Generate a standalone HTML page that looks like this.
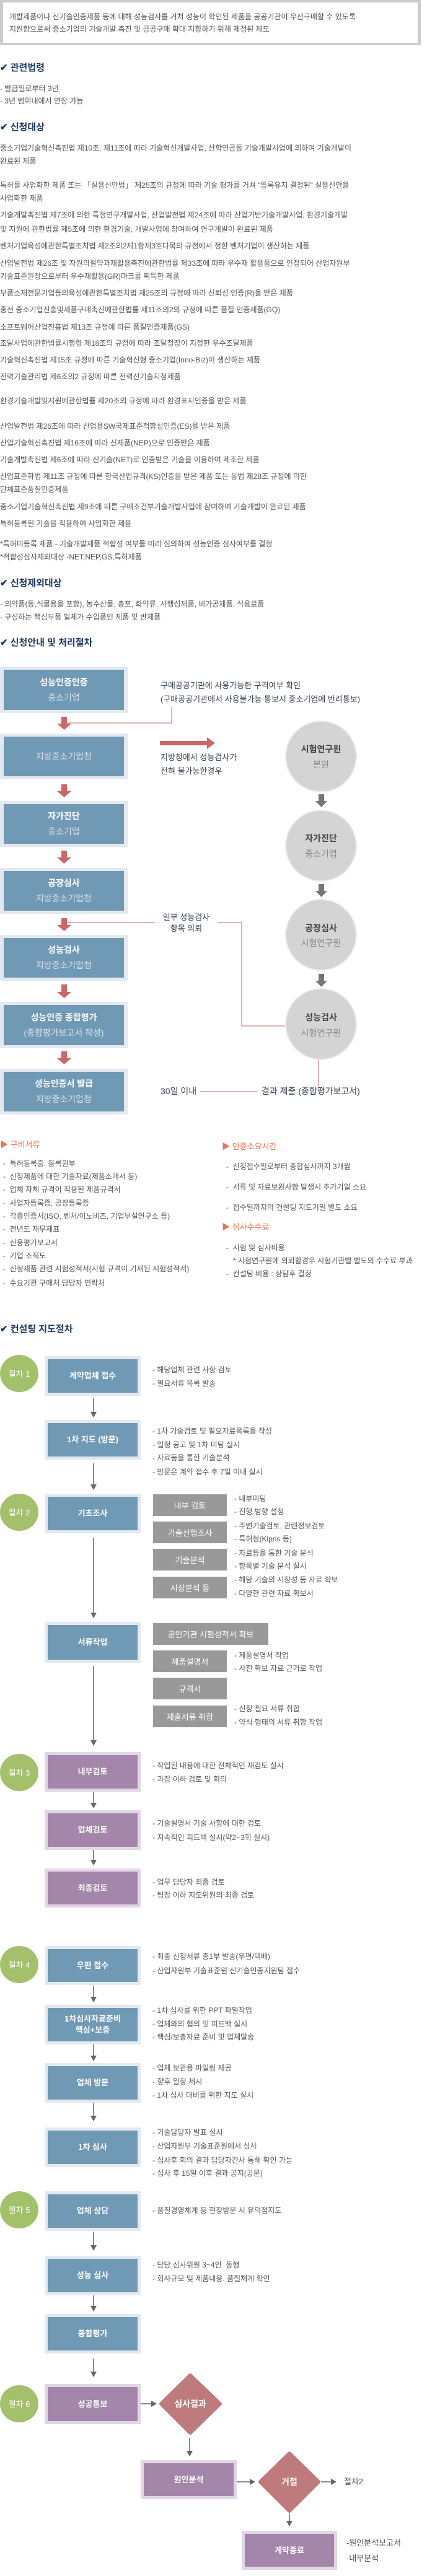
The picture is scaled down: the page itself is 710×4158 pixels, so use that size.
<!DOCTYPE html>
<html lang="ko"><head><meta charset="utf-8">
<style>
*{margin:0;padding:0;box-sizing:border-box}
body{width:710px;height:4158px;position:relative;background:#fff;font-family:"Liberation Sans","Noto Sans CJK KR",sans-serif;overflow:hidden}
.t{position:absolute;font-size:12px;line-height:16px;color:#555;white-space:nowrap}
.h{position:absolute;font-size:15px;line-height:20px;font-weight:bold;color:#1e3a66;white-space:nowrap;left:0}
.o{position:absolute;font-size:13px;line-height:18px;color:#f07050;white-space:nowrap}
.fb{position:absolute;left:0;width:206px;border:5px solid #e3e9ef;border-left-width:6px;border-right-width:6px;background:#7099b5;display:flex;flex-direction:column;align-items:center;justify-content:center;text-align:center}
.fb b{display:block;color:#fff;font-size:14px;line-height:25px}
.fb span{display:block;color:#d9e3ec;font-size:14px;line-height:25px}
.cb{position:absolute;border:5px solid #e3e9ef;background:#7099b5;display:flex;align-items:center;justify-content:center;text-align:center;color:#fff;font-size:13px;font-weight:bold;line-height:18px}
.pb{border-color:#e2d6e6;background:#a386aa}
.gb{position:absolute;left:247px;width:119px;height:35px;background:#999;color:#fff;font-size:13px;display:flex;align-items:center;justify-content:center;white-space:nowrap}
.d{color:#555}
</style></head><body>

<div style="position:absolute;left:0;top:0;width:679px;height:73px;border:5px solid #ccc;border-top-width:4px;border-bottom-width:4px;background:#fff"></div>
<div class="t" style="left:15px;top:19px">개발제품이나 신기술인증제품 등에 대해 성능검사를 거쳐 성능이 확인된 제품을 공공기관이 우선구매할 수 있도록</div>
<div class="t" style="left:15px;top:39px">지원함으로써 중소기업의 기술개발 촉진 및 공공구매 확대 지향하기 위해 제정된 제도</div>

<div class="h" style="top:100px">✔ 관련법령</div>
<div class="t" style="left:0;top:135px">- 발급일로부터 3년</div>
<div class="t" style="left:0;top:155px">- 3년 범위내에서 연장 가능</div>

<div class="h" style="top:196px">✔ 신청대상</div>
<div class="t" style="left:0;top:231px">중소기업기술혁신촉진법 제10조, 제11조에 따라 기술혁신개발사업, 산학연공동 기술개발사업에 의하여 기술개발이</div>
<div class="t" style="left:0;top:252px">완료된 제품</div>
<div class="t" style="left:0;top:291px">특허를 사업화한 제품 또는 「실용신안법」 제25조의 규정에 따라 기술 평가를 거쳐 “등록유지 결정된” 실용신안을</div>
<div class="t" style="left:0;top:312px">사업화한 제품</div>
<div class="t" style="left:0;top:339px">기술개발촉진법 제7조에 의한 특정연구개발사업, 산업발전법 제24조에 따라 산업기반기술개발사업, 환경기술개발</div>
<div class="t" style="left:0;top:362px">및 지원에 관한법률 제5조에 의한 환경기술, 개발사업에 참여하여 연구개발이 완료된 제품</div>
<div class="t" style="left:0;top:389px">벤처기업육성에관한특별조치법 제2조의2제1항제3호다목의 규정에서 정한 벤처기업이 생산하는 제품</div>
<div class="t" style="left:0;top:417px">산업발전법 제26조 및 자원의절약과재활용촉진에관한법률 제33조에 따라 우수재 활용품으로 인정되어 산업자원부</div>
<div class="t" style="left:0;top:438px">기술표준원장으로부터 우수재활용(GR)마크를 획득한 제품</div>
<div class="t" style="left:0;top:465px">부품소재전문기업등의육성에관한특별조치법 제25조의 규정에 따라 신뢰성 인증(R)을 받은 제품</div>
<div class="t" style="left:0;top:492px">종전 중소기업진흥및제품구매촉진에관한법률 제11조의2의 규정에 따른 품질 인증제품(GQ)</div>
<div class="t" style="left:0;top:520px">소프트웨어산업진흥법 제13조 규정에 따른 품질인증제품(GS)</div>
<div class="t" style="left:0;top:546px">조달사업에관한법률시행령 제18조의 규정에 따라 조달청장이 지정한 우수조달제품</div>
<div class="t" style="left:0;top:573px">기술혁신촉진법 제15조 규정에 따른 기술혁신형 중소기업(Inno-Biz)이 생산하는 제품</div>
<div class="t" style="left:0;top:600px">전력기술관리법 제6조의2 규정에 따른 전력신기술지정제품</div>
<div class="t" style="left:0;top:639px">환경기술개발및지원에관한법률 제20조의 규정에 따라 환경표지인증을 받은 제품</div>
<div class="t" style="left:0;top:680px">산업발전법 제26조에 따라 산업용SW국제표준적합성인증(ES)을 받은 제품</div>
<div class="t" style="left:0;top:707px">산업기술혁신촉진법 제16조에 따라 신제품(NEP)으로 인증받은 제품</div>
<div class="t" style="left:0;top:734px">기술개발촉진법 제6조에 따라 신기술(NET)로 인증받은 기술을 이용하여 제조한 제품</div>
<div class="t" style="left:0;top:761px">산업표준화법 제11조 규정에 따른 한국산업규격(KS)인증을 받은 제품 또는 동법 제28조 규정에 의한</div>
<div class="t" style="left:0;top:782px">단체표준품질인증제품</div>
<div class="t" style="left:0;top:810px">중소기업기술혁신촉진법 제9조에 따른 구매조건부기술개발사업에 참여하여 기술개발이 완료된 제품</div>
<div class="t" style="left:0;top:837px">특허등록된 기술을 적용하여 사업화한 제품</div>
<div class="t" style="left:0;top:870px">*특허미등록 제품 - 기술개발제품 적합성 여부를 미리 심의하여 성능인증 심사여부를 결정</div>
<div class="t" style="left:0;top:891px">*적합성심사제외대상 -NET,NEP,GS,특허제품</div>

<div class="h" style="top:932px">✔ 신청제외대상</div>
<div class="t" style="left:0;top:967px">-  의약품(동,식물용을 포함), 농수산물, 총포, 화약류, 사행성제품, 비가공제품, 식음료품</div>
<div class="t" style="left:0;top:988px">-  구성하는 핵심부품 일체가 수입품인 제품 및 반제품</div>

<div class="h" style="top:1028px">✔ 신청안내 및 처리절차</div>

<svg style="position:absolute;left:0;top:0" width="710" height="4158" xmlns="http://www.w3.org/2000/svg">
<g fill="#cd6666">
<rect x="99" y="1157" width="9" height="11"/><polygon points="92,1168 115,1168 103.5,1178"/>
<rect x="99" y="1266" width="9" height="11"/><polygon points="92,1277 115,1277 103.5,1287"/>
<rect x="99" y="1373" width="9" height="11"/><polygon points="92,1384 115,1384 103.5,1394"/>
<rect x="99" y="1482" width="9" height="11"/><polygon points="92,1493 115,1493 103.5,1503"/>
<rect x="99" y="1589" width="9" height="12"/><polygon points="92,1601 115,1601 103.5,1611"/>
<rect x="99" y="1697" width="9" height="11"/><polygon points="92,1708 115,1708 103.5,1718"/>
<rect x="258" y="1196" width="77" height="7"/><polygon points="334,1190 347,1199.5 334,1209"/>
</g>
<g stroke="#cd6666" stroke-width="1" fill="none">
<polyline points="277,1141 277,1167 108,1167"/>
<polyline points="108,1489 250,1489"/>
<polyline points="351,1489 390,1489 390,1656 461,1656"/>
<line x1="514" y1="1710" x2="514" y2="1753"/>
<line x1="323" y1="1762" x2="415" y2="1762"/>
</g>
<g fill="#777">
<rect x="514" y="1282" width="9" height="11"/><polygon points="509,1293 528,1293 518.5,1303"/>
<rect x="514" y="1427" width="9" height="11"/><polygon points="509,1438 528,1438 518.5,1448"/>
<rect x="514" y="1572" width="9" height="11"/><polygon points="509,1583 528,1583 518.5,1593"/>
</g>
<g fill="#d4d4d4" stroke="#ececec" stroke-width="2">
<ellipse cx="518" cy="1221" rx="57" ry="57"/>
<ellipse cx="518" cy="1365" rx="57" ry="57"/>
<ellipse cx="518" cy="1509" rx="57" ry="57"/>
<ellipse cx="518" cy="1653" rx="57" ry="57"/>
</g>
<g font-family="Liberation Sans,Noto Sans CJK KR,sans-serif" font-size="14" text-anchor="middle">
<text x="518" y="1214" font-weight="bold" fill="#444">시험연구원</text><text x="518" y="1239" fill="#888">본원</text>
<text x="518" y="1358" font-weight="bold" fill="#444">자가진단</text><text x="518" y="1383" fill="#888">중소기업</text>
<text x="518" y="1503" font-weight="bold" fill="#444">공장심사</text><text x="518" y="1527" fill="#888">시험연구원</text>
<text x="518" y="1647" font-weight="bold" fill="#444">성능검사</text><text x="518" y="1672" fill="#888">시험연구원</text>
</g>

<!-- consulting arrows -->
<g stroke="#666" stroke-width="1.5">
<line x1="151" y1="2257" x2="151" y2="2280"/><line x1="151" y1="2362" x2="151" y2="2397"/>
<line x1="151" y1="2482" x2="151" y2="2604"/><line x1="151" y1="2689" x2="151" y2="2810"/>
<line x1="151" y1="2893" x2="151" y2="2911"/><line x1="151" y1="2986" x2="151" y2="3003"/>
<line x1="151" y1="3205" x2="151" y2="3224"/><line x1="151" y1="3300" x2="151" y2="3319"/>
<line x1="151" y1="3394" x2="151" y2="3416"/><line x1="151" y1="3602" x2="151" y2="3625"/>
<line x1="151" y1="3705" x2="151" y2="3723"/><line x1="151" y1="3807" x2="151" y2="3829"/>
<line x1="306" y1="3935" x2="306" y2="3957"/><line x1="467" y1="4057" x2="467" y2="4070"/>
<line x1="227" y1="3880" x2="245" y2="3880"/><line x1="382" y1="4006" x2="404" y2="4006"/>
<line x1="518" y1="4006" x2="535" y2="4006"/>
</g>
<g fill="#666">
<polygon points="146,2279 156,2279 151,2288"/><polygon points="146,2396 156,2396 151,2405"/>
<polygon points="146,2603 156,2603 151,2612"/><polygon points="146,2809 156,2809 151,2818"/>
<polygon points="146,2910 156,2910 151,2919"/><polygon points="146,3002 156,3002 151,3011"/>
<polygon points="146,3223 156,3223 151,3232"/><polygon points="146,3318 156,3318 151,3327"/>
<polygon points="146,3415 156,3415 151,3424"/><polygon points="146,3624 156,3624 151,3633"/>
<polygon points="146,3722 156,3722 151,3731"/><polygon points="146,3828 156,3828 151,3837"/>
<polygon points="301,3956 311,3956 306,3965"/><polygon points="462,4069 472,4069 467,4078"/>
<polygon points="244,3875 244,3885 253,3880"/><polygon points="403,4001 403,4011 412,4006"/>
<polygon points="534,4001 534,4011 543,4006"/>
</g>
<g fill="#a3c06b">
<ellipse cx="31" cy="2217" rx="31" ry="30"/><ellipse cx="31" cy="2441" rx="31" ry="30"/>
<ellipse cx="31" cy="2861" rx="31" ry="30"/><ellipse cx="31" cy="3171" rx="31" ry="30"/>
<ellipse cx="31" cy="3567" rx="31" ry="30"/><ellipse cx="31" cy="3880" rx="31" ry="30"/>
</g>
<g font-family="Liberation Sans,Noto Sans CJK KR,sans-serif" font-size="13" fill="#fff" text-anchor="middle">
<text x="31" y="2222">절차 1</text><text x="31" y="2446">절차 2</text><text x="31" y="2866">절차 3</text>
<text x="31" y="3176">절차 4</text><text x="31" y="3572">절차 5</text><text x="31" y="3885">절차 6</text>
</g>
<g fill="#bf7b7b" stroke="#bf7b7b" stroke-width="6" stroke-linejoin="round">
<polygon points="307,3834 355,3880 307,3927 260,3880"/>
<polygon points="467,3960 514,4006 467,4053 420,4006"/>
</g>
<g font-family="Liberation Sans,Noto Sans CJK KR,sans-serif" font-size="14" fill="#fff" text-anchor="middle" font-weight="bold">
<text x="307" y="3885">심사결과</text><text x="467" y="4011">거절</text>
</g>
</svg>

<!-- flow 1 -->
<div class="fb" style="top:1076px;height:75px"><b>성능인증인증</b><span>중소기업</span></div>
<div class="fb" style="top:1184px;height:74px"><span>지방중소기업청</span></div>
<div class="fb" style="top:1293px;height:74px"><b>자가진단</b><span>중소기업</span></div>
<div class="fb" style="top:1401px;height:74px"><b>공장심사</b><span>지방중소기업청</span></div>
<div class="fb" style="top:1509px;height:74px"><b>성능검사</b><span>지방중소기업청</span></div>
<div class="fb" style="top:1617px;height:75px"><b>성능인증 종합평가</b><span>(종합평가보고서 작성)</span></div>
<div class="fb" style="top:1725px;height:74px"><b>성능인증서 발급</b><span>지방중소기업청</span></div>

<div class="t" style="left:259px;top:1099px;font-size:13px;color:#3a4656">구매공공기관에 사용가능한 구격여부 확인</div>
<div class="t" style="left:259px;top:1121px;font-size:13px;color:#3a4656">(구매공공기관에서 사용불가능 통보시 중소기업에 반려통보)</div>
<div class="t" style="left:259px;top:1215px;font-size:13px;color:#3a4656">지방청에서 성능검사가</div>
<div class="t" style="left:259px;top:1237px;font-size:13px;color:#3a4656">전혀 불가능한경우</div>
<div class="t" style="left:250px;width:101px;text-align:center;top:1473px;font-size:13px;color:#3a4656">일부 성능검사</div>
<div class="t" style="left:250px;width:101px;text-align:center;top:1491px;font-size:13px;color:#3a4656">항목 의뢰</div>
<div class="t" style="left:259px;top:1753px;font-size:14px;color:#3a4656">30일 이내</div>
<div class="t" style="left:422px;top:1753px;font-size:14px;color:#3a4656">결과 제출 (종합평가보고서)</div>

<div class="o" style="left:0;top:1839px">▶ 구비서류</div>
<div class="t" style="left:5px;top:1870px">-&nbsp; 특허등록증, 등록원부</div>
<div class="t" style="left:5px;top:1891px">-&nbsp; 신청제품에 대한 기술자료(제품소개서 등)</div>
<div class="t" style="left:5px;top:1912px">-&nbsp; 업체 자체 규격이 적용된 제품규격서</div>
<div class="t" style="left:5px;top:1934px">-&nbsp; 사업자등록증, 공장등록증</div>
<div class="t" style="left:5px;top:1955px">-&nbsp; 각종인증서(ISO, 벤처/이노비즈, 기업부설연구소 등)</div>
<div class="t" style="left:5px;top:1976px">-&nbsp; 전년도 재무제표</div>
<div class="t" style="left:5px;top:1998px">-&nbsp; 신용평가보고서</div>
<div class="t" style="left:5px;top:2019px">-&nbsp; 기업 조직도</div>
<div class="t" style="left:5px;top:2040px">-&nbsp; 신청제품 관련 시험성적서(시험 규격이 기재된 시험성적서)</div>
<div class="t" style="left:5px;top:2063px">-&nbsp; 수요기관 구매처 담당자 연락처</div>

<div class="o" style="left:358px;top:1842px">▶ 인증소요시간</div>
<div class="t" style="left:365px;top:1875px">-&nbsp; 신청접수일로부터 종합심사까지 3개월</div>
<div class="t" style="left:365px;top:1908px">-&nbsp; 서류 및 자료보완사항 발생시 추가기일 소요</div>
<div class="t" style="left:365px;top:1941px">-&nbsp; 접수일까지의 컨설팅 지도기일 별도 소요</div>
<div class="o" style="left:358px;top:1972px">▶ 심사수수료</div>
<div class="t" style="left:365px;top:2006px">-&nbsp; 시험 및 심사비용</div>
<div class="t" style="left:376px;top:2027px">* 시험연구원에 의뢰할경우 시험기관별 별도의 수수료 부과</div>
<div class="t" style="left:365px;top:2048px">-&nbsp; 컨설팅 비용 : 상담후 결정</div>

<div class="h" style="top:2136px">✔ 컨설팅 지도절차</div>

<!-- consulting boxes -->
<div class="cb" style="left:72px;width:155px;top:2189px;height:64px">계약업체 접수</div>
<div class="cb" style="left:72px;width:155px;top:2292px;height:64px">1차 지도 (방문)</div>
<div class="cb" style="left:72px;width:155px;top:2411px;height:64px">기초조사</div>
<div class="cb" style="left:72px;width:155px;top:2618px;height:66px">서류작업</div>
<div class="cb pb" style="left:72px;width:155px;top:2828px;height:64px">내부검토</div>
<div class="cb pb" style="left:72px;width:155px;top:2922px;height:64px">업체검토</div>
<div class="cb pb" style="left:72px;width:155px;top:3016px;height:63px">최종검토</div>
<div class="cb" style="left:72px;width:155px;top:3141px;height:63px">우편 접수</div>
<div class="cb" style="left:72px;width:155px;top:3236px;height:64px">1차심사자료준비<br>핵심+보충</div>
<div class="cb" style="left:72px;width:155px;top:3330px;height:64px">업체 방문</div>
<div class="cb" style="left:72px;width:155px;top:3434px;height:64px">1차 심사</div>
<div class="cb" style="left:72px;width:155px;top:3537px;height:64px">업체 상담</div>
<div class="cb" style="left:72px;width:155px;top:3641px;height:64px">성능 심사</div>
<div class="cb" style="left:72px;width:155px;top:3735px;height:64px">종합평가</div>
<div class="cb pb" style="left:72px;width:155px;top:3848px;height:65px">성공통보</div>
<div class="cb pb" style="left:227px;width:155px;top:3971px;height:63px">원인분석</div>
<div class="cb pb" style="left:390px;width:154px;top:4085px;height:63px">계약종료</div>

<div class="gb" style="top:2412px">내부 검토</div>
<div class="gb" style="top:2456px">기술선행조사</div>
<div class="gb" style="top:2500px">기술분석</div>
<div class="gb" style="top:2545px">시장분석 등</div>
<div class="gb" style="top:2620px;width:186px">공인기관 시험성적서 확보</div>
<div class="gb" style="top:2664px">제품설명서</div>
<div class="gb" style="top:2708px">규격서</div>
<div class="gb" style="top:2753px">제출서류 취합</div>

<div class="t" style="left:246px;top:2203px">- 해당업체 관련 사항 검토</div>
<div class="t" style="left:246px;top:2225px">- 필요서류 목록 발송</div>
<div class="t" style="left:246px;top:2302px">- 1차 기술검토 및 필요자료목록을 작성</div>
<div class="t" style="left:246px;top:2324px">- 일정 공고 및 1차 미팅 실시</div>
<div class="t" style="left:246px;top:2345px">- 자료등을 통한 기술분석</div>
<div class="t" style="left:246px;top:2368px">- 방문은 계약 접수 후 7일 이내 실시</div>
<div class="t" style="left:378px;top:2411px">- 내부미팅</div>
<div class="t" style="left:378px;top:2432px">- 진행 방향 설정</div>
<div class="t" style="left:378px;top:2455px">- 주변기술검토, 관련정보검토</div>
<div class="t" style="left:378px;top:2476px">- 특허청(Klpris 등)</div>
<div class="t" style="left:378px;top:2499px">- 자료등을 통한 기술 분석</div>
<div class="t" style="left:378px;top:2520px">- 항목별 기술 분석 실시</div>
<div class="t" style="left:378px;top:2542px">- 해당 기술의 시장성 등 자료 확보</div>
<div class="t" style="left:378px;top:2564px">- 다양한 관련 자료 확보시</div>
<div class="t" style="left:378px;top:2664px">- 제품설명서 작업</div>
<div class="t" style="left:378px;top:2685px">- 사전 확보 자료 근거로 작업</div>
<div class="t" style="left:378px;top:2750px">- 신청 필요 서류 취합</div>
<div class="t" style="left:378px;top:2772px">- 약식 형태의 서류 취합 작업</div>
<div class="t" style="left:246px;top:2842px">- 작업된 내용에 대한 전체적인 재검토 실시</div>
<div class="t" style="left:246px;top:2864px">- 과장 이하 검토 및 회의</div>
<div class="t" style="left:246px;top:2935px">- 기술설명서 기술 사항에 대한 검토</div>
<div class="t" style="left:246px;top:2958px">- 지속적인 피드백 실시(약2~3회 실시)</div>
<div class="t" style="left:246px;top:3030px">- 업무 담당자 최종 검토</div>
<div class="t" style="left:246px;top:3051px">- 팀장 이하 지도위원의 최종 검토</div>
<div class="t" style="left:246px;top:3150px">- 최종 신청서류 총1부 발송(우편/택배)</div>
<div class="t" style="left:246px;top:3173px">- 산업자원부 기술표준원 신기술인증지원팀 접수</div>
<div class="t" style="left:246px;top:3237px">- 1차 심사를 위한 PPT 파일작업</div>
<div class="t" style="left:246px;top:3259px">- 업체와의 협의 및 피드백 실시</div>
<div class="t" style="left:246px;top:3280px">- 핵심/보충자료 준비 및 업체발송</div>
<div class="t" style="left:246px;top:3330px">- 업체 보관용 파일링 제공</div>
<div class="t" style="left:246px;top:3352px">- 향후 일정 제시</div>
<div class="t" style="left:246px;top:3374px">- 1차 심사 대비를 위한 지도 실시</div>
<div class="t" style="left:246px;top:3434px">- 기술담당자 발표 실시</div>
<div class="t" style="left:246px;top:3456px">- 산업자원부 기술표준원에서 심사</div>
<div class="t" style="left:246px;top:3479px">- 심사후 회의 결과 담당자간사 통해 확인 가능</div>
<div class="t" style="left:246px;top:3500px">- 심사 후 15일 이후 결과 공지(공문)</div>
<div class="t" style="left:246px;top:3560px">- 품질경영체계 등 현장방문 시 유의점지도</div>
<div class="t" style="left:246px;top:3648px">- 담당 심사위원 3~4인 &nbsp;동행</div>
<div class="t" style="left:246px;top:3670px">- 회사규모 및 제품내용, 품질체계 확인</div>
<div class="t" style="left:555px;top:3998px;font-size:13px">절차2</div>
<div class="t" style="left:559px;top:4097px;font-size:13px">-원인분석보고서</div>
<div class="t" style="left:559px;top:4122px;font-size:13px">-내부분석</div>
</body></html>
